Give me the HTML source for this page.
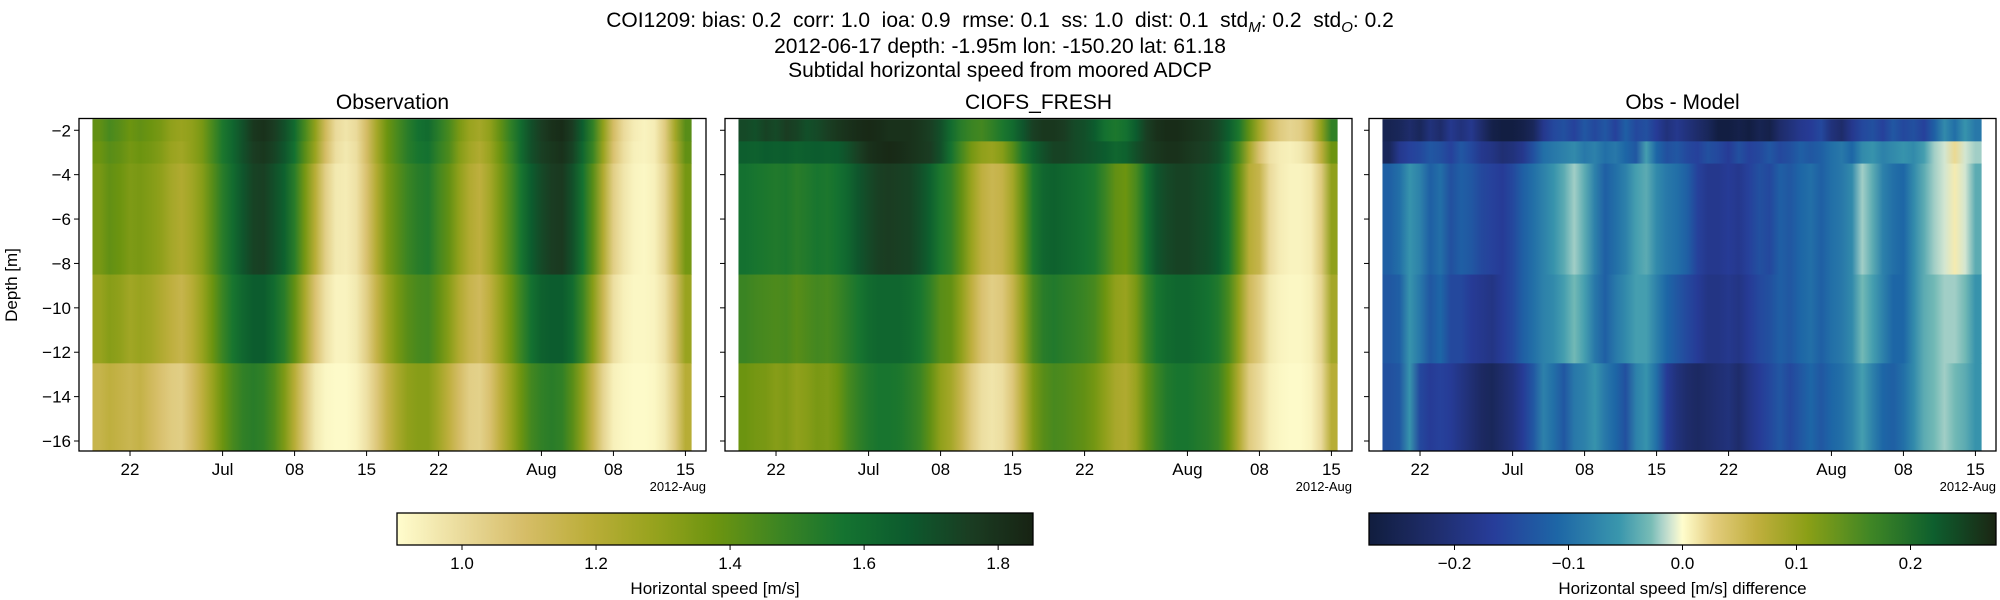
<!DOCTYPE html>
<html><head><meta charset="utf-8"><style>
html,body{margin:0;padding:0;background:#fff;}
svg{display:block;font-family:"Liberation Sans","DejaVu Sans",sans-serif;}
.sup{white-space:pre;}
</style></head><body>
<svg id="fig" xmlns="http://www.w3.org/2000/svg" width="2000" height="600" viewBox="0 0 2000 600">
<text class="sup" x="1000" y="27" font-size="21" text-anchor="middle">COI1209: bias: 0.2  corr: 1.0  ioa: 0.9  rmse: 0.1  ss: 1.0  dist: 0.1  std<tspan font-size="15" dy="5" font-style="italic">M</tspan><tspan dy="-5">: 0.2  std</tspan><tspan font-size="15" dy="5" font-style="italic">O</tspan><tspan dy="-5">: 0.2</tspan></text>
<text x="1000" y="53" font-size="21" text-anchor="middle">2012-06-17 depth: -1.95m lon: -150.20 lat: 61.18</text>
<text x="1000" y="77" font-size="21" text-anchor="middle">Subtidal horizontal speed from moored ADCP</text>
<g id="panels"></g>
<g id="cbars"></g>
</svg>
<script>
// ---- data ----
const days = [-3,-2,-1,0,1,2,3,4,5,6,7,8,9,10,11,12,13,14,15,16,17,18,19,20,21,22,23,24,25,26,27,28,29,30,31,32,33,34,35,36,37,38,39,40,41,42,43,44,45,46,47,48,49,50,51,52,53,54];
const depthEdges = [-1.5,-2.5,-3.5,-8.5,-12.5,-16.5];
const xTickDays = [0,9,16,23,30,40,47,54];
const xTickLabels = ['22','Jul','08','15','22','Aug','08','15'];
const yTicks = [-2,-4,-6,-8,-10,-12,-14,-16];
const speedTicks = [1.0,1.2,1.4,1.6,1.8];
const diffTicks = [-0.2,-0.1,0.0,0.1,0.2];

const obsL0 = [1.40,1.45,1.42,1.38,1.40,1.38,1.35,1.30,1.28,1.30, 1.35,1.45,1.55,1.62,1.70,1.78,1.80,1.76,1.70,1.60, 1.45,1.30,1.12,1.00,0.97,1.00,1.10,1.25,1.38,1.45, 1.52,1.58,1.60,1.52,1.45,1.35,1.28,1.25,1.30,1.40, 1.50,1.60,1.70,1.76,1.80,1.82,1.76,1.65,1.50,1.30, 1.10,1.00,0.95,0.93,0.95,1.05,1.25,1.42];
const obsL1 = [1.38,1.42,1.40,1.36,1.38,1.36,1.33,1.28,1.26,1.30, 1.35,1.45,1.55,1.62,1.70,1.76,1.78,1.74,1.68,1.58, 1.42,1.28,1.10,0.99,0.96,0.99,1.10,1.25,1.38,1.45, 1.52,1.56,1.58,1.50,1.44,1.33,1.26,1.22,1.28,1.38, 1.48,1.60,1.70,1.75,1.78,1.80,1.74,1.62,1.48,1.28, 1.08,0.99,0.94,0.93,0.95,1.05,1.22,1.40];
const obsL2 = [1.35,1.40,1.38,1.34,1.35,1.33,1.30,1.25,1.22,1.26, 1.32,1.42,1.52,1.60,1.68,1.74,1.75,1.70,1.64,1.52, 1.36,1.20,1.04,0.96,0.95,0.98,1.08,1.22,1.35,1.42, 1.48,1.52,1.54,1.46,1.40,1.30,1.22,1.18,1.25,1.35, 1.45,1.56,1.66,1.72,1.76,1.77,1.70,1.58,1.42,1.22, 1.04,0.97,0.93,0.92,0.94,1.02,1.18,1.36];
const obsL3 = [1.28,1.32,1.30,1.26,1.28,1.26,1.22,1.18,1.15,1.20, 1.28,1.38,1.48,1.56,1.62,1.66,1.66,1.60,1.52,1.40, 1.24,1.08,0.98,0.93,0.93,0.96,1.04,1.16,1.28,1.36, 1.42,1.45,1.46,1.40,1.32,1.22,1.15,1.12,1.18,1.28, 1.38,1.48,1.58,1.64,1.66,1.66,1.60,1.48,1.32,1.14, 0.99,0.94,0.92,0.92,0.93,0.98,1.10,1.28];
const obsL4 = [1.15,1.18,1.16,1.14,1.16,1.12,1.08,1.05,1.04,1.10, 1.18,1.28,1.38,1.45,1.50,1.52,1.50,1.44,1.34,1.20, 1.06,0.96,0.92,0.91,0.91,0.93,0.98,1.06,1.16,1.24, 1.30,1.32,1.32,1.26,1.18,1.10,1.04,1.03,1.08,1.18, 1.28,1.38,1.46,1.50,1.52,1.50,1.42,1.30,1.15,1.02, 0.94,0.92,0.91,0.91,0.92,0.96,1.05,1.20];

const modL0 = [1.72,1.70,1.74,1.72,1.76,1.74,1.70,1.72,1.75,1.78, 1.80,1.82,1.83,1.82,1.80,1.80,1.80,1.78,1.75,1.70, 1.60,1.52,1.48,1.46,1.50,1.55,1.60,1.68,1.75,1.78, 1.78,1.76,1.72,1.70,1.66,1.58,1.55,1.58,1.66,1.75, 1.80,1.82,1.82,1.80,1.78,1.76,1.72,1.65,1.55,1.40, 1.25,1.12,1.05,1.02,1.04,1.12,1.30,1.50];
const modL1 = [1.65,1.64,1.66,1.65,1.66,1.64,1.65,1.66,1.65,1.66, 1.70,1.75,1.80,1.82,1.83,1.82,1.80,1.78,1.76,1.70, 1.58,1.46,1.36,1.30,1.28,1.32,1.42,1.55,1.64,1.70, 1.74,1.74,1.72,1.70,1.68,1.66,1.62,1.64,1.70,1.75, 1.78,1.80,1.80,1.78,1.76,1.74,1.70,1.60,1.45,1.25, 1.08,0.98,0.95,0.94,0.96,1.02,1.18,1.38];
const modL2 = [1.58,1.56,1.55,1.54,1.55,1.52,1.54,1.56,1.55,1.58, 1.62,1.68,1.72,1.75,1.76,1.75,1.74,1.70,1.64,1.55, 1.50,1.40,1.28,1.18,1.14,1.16,1.25,1.40,1.55,1.62, 1.64,1.62,1.60,1.58,1.55,1.48,1.40,1.38,1.45,1.58, 1.68,1.72,1.74,1.74,1.72,1.70,1.66,1.56,1.40,1.20, 1.15,1.00,0.95,0.93,0.93,0.95,1.05,1.30];
const modL3 = [1.48,1.46,1.45,1.44,1.45,1.42,1.44,1.46,1.45,1.48, 1.52,1.56,1.60,1.62,1.62,1.62,1.60,1.56,1.50,1.42, 1.40,1.30,1.18,1.08,1.04,1.06,1.15,1.30,1.45,1.52, 1.54,1.52,1.50,1.48,1.45,1.38,1.30,1.28,1.35,1.48, 1.56,1.60,1.62,1.62,1.60,1.58,1.54,1.45,1.30,1.12, 1.05,0.96,0.93,0.92,0.92,0.94,1.02,1.25];
const modL4 = [1.38,1.36,1.35,1.32,1.34,1.30,1.32,1.35,1.34,1.38, 1.45,1.50,1.54,1.56,1.56,1.55,1.52,1.48,1.40,1.30, 1.25,1.15,1.05,0.99,0.97,0.99,1.06,1.20,1.35,1.42, 1.45,1.44,1.42,1.40,1.36,1.30,1.24,1.22,1.28,1.40, 1.48,1.54,1.56,1.56,1.54,1.52,1.48,1.38,1.22,1.05, 1.00,0.94,0.92,0.91,0.91,0.93,1.00,1.20];

const difL0 = [-0.25,-0.24,-0.22,-0.24,-0.20,-0.22,-0.18,-0.20,-0.18,-0.22, -0.26,-0.27,-0.27,-0.26,-0.24,-0.18,-0.15,-0.14,-0.16,-0.13, -0.15,-0.13,-0.16,-0.12,-0.15,-0.14,-0.17,-0.20,-0.18,-0.20, -0.22,-0.24,-0.27,-0.27,-0.26,-0.27,-0.25,-0.26,-0.22,-0.20, -0.18,-0.17,-0.15,-0.20,-0.22,-0.18,-0.15,-0.14,-0.16,-0.13, -0.15,-0.14,-0.16,-0.12,-0.07,-0.10,-0.06,-0.09];
const difL1 = [-0.24,-0.18,-0.16,-0.15,-0.13,-0.14,-0.16,-0.13,-0.15,-0.18, -0.19,-0.21,-0.20,-0.18,-0.14,-0.10,-0.09,-0.08,-0.07,-0.09, -0.08,-0.10,-0.09,-0.11,-0.13,-0.05,-0.11,-0.14,-0.13,-0.15, -0.16,-0.14,-0.15,-0.17,-0.14,-0.16,-0.15,-0.13,-0.15,-0.14, -0.12,-0.13,-0.12,-0.10,-0.09,-0.11,-0.07,-0.06,-0.08,-0.07, -0.06,-0.07,-0.05,-0.02,-0.01,0.02,-0.01,-0.02];
const difL2 = [-0.12,-0.10,-0.06,-0.08,-0.12,-0.10,-0.14,-0.12,-0.13,-0.15, -0.16,-0.17,-0.15,-0.12,-0.10,-0.08,-0.06,-0.04,-0.02,-0.04, -0.08,-0.12,-0.10,-0.08,-0.05,-0.04,-0.07,-0.09,-0.10,-0.12, -0.16,-0.18,-0.18,-0.17,-0.18,-0.16,-0.14,-0.15,-0.12,-0.13, -0.11,-0.10,-0.12,-0.10,-0.09,-0.07,-0.02,-0.04,-0.08,-0.10, -0.11,-0.07,-0.04,-0.02,-0.01,0.01,-0.01,-0.04];
const difL3 = [-0.13,-0.12,-0.06,-0.09,-0.13,-0.11,-0.15,-0.15,-0.17,-0.18, -0.19,-0.17,-0.15,-0.12,-0.10,-0.08,-0.07,-0.05,-0.03,-0.05, -0.09,-0.12,-0.09,-0.07,-0.05,-0.05,-0.08,-0.11,-0.13,-0.15, -0.17,-0.19,-0.19,-0.18,-0.19,-0.17,-0.15,-0.14,-0.12,-0.13, -0.11,-0.10,-0.12,-0.10,-0.09,-0.07,-0.03,-0.05,-0.08,-0.11, -0.11,-0.07,-0.04,-0.03,-0.02,-0.02,-0.03,-0.06];
const difL4 = [-0.14,-0.13,-0.06,-0.15,-0.17,-0.16,-0.17,-0.19,-0.21,-0.23, -0.24,-0.22,-0.20,-0.17,-0.13,-0.08,-0.10,-0.13,-0.09,-0.08, -0.06,-0.09,-0.11,-0.14,-0.08,-0.06,-0.10,-0.17,-0.20,-0.22, -0.23,-0.22,-0.21,-0.20,-0.22,-0.19,-0.17,-0.15,-0.13,-0.15, -0.13,-0.11,-0.13,-0.11,-0.10,-0.08,-0.05,-0.08,-0.11,-0.12, -0.10,-0.07,-0.04,-0.03,-0.02,-0.03,-0.04,-0.06];

const obsRows = [obsL0,obsL1,obsL2,obsL3,obsL4];
const modRows = [modL0,modL1,modL2,modL3,modL4];
const difRows = [difL0,difL1,difL2,difL3,difL4];

// ---- colormaps ----
const speedStops = [[0,'#fffdcd'],[0.1,'#eadb9c'],[0.2,'#d6bd68'],[0.3,'#bcae3a'],[0.4,'#98a31e'],[0.5,'#6d9410'],[0.6,'#3d8522'],[0.7,'#157430'],[0.8,'#0c5b2e'],[0.9,'#1a3d22'],[1,'#172313']];
const deltaStops = [[0,'#111d3e'],[0.1,'#1e2c6a'],[0.2,'#273d9a'],[0.3,'#1d66a6'],[0.4,'#3a97ad'],[0.45,'#78bcb6'],[0.475,'#c3ddd3'],[0.5,'#fffdcd'],[0.55,'#e3cc7c'],[0.62,'#bfae3c'],[0.7,'#8a9f16'],[0.8,'#3f8625'],[0.9,'#0e5f2e'],[1,'#1b2513']];
function hex(h){return [parseInt(h.substr(1,2),16),parseInt(h.substr(3,2),16),parseInt(h.substr(5,2),16)];}
function cmap(stops,t){
  t=Math.max(0,Math.min(1,t));
  for(let i=1;i<stops.length;i++){
    if(t<=stops[i][0]){
      const a=stops[i-1],b=stops[i];const f=(t-a[0])/(b[0]-a[0]);
      const ca=hex(a[1]),cb=hex(b[1]);
      return 'rgb('+ca.map((v,k)=>Math.round(v+(cb[k]-v)*f)).join(',')+')';
    }
  }
  return stops[stops.length-1][1];
}
const NS='http://www.w3.org/2000/svg';
function el(tag,attrs,parent){const e=document.createElementNS(NS,tag);for(const k in attrs)e.setAttribute(k,attrs[k]);if(parent)parent.appendChild(e);return e;}

// ---- layout ----
const axTop=118.5, axBot=451, axW=627;
const xDom=[-4.96,56.0], yDom=[-16.45,-1.47];
const dataX=[-3.65,54.6];
function yS(v){return axBot-(v-yDom[0])/(yDom[1]-yDom[0])*(axBot-axTop);}
function xS(left,d){return left+(d-xDom[0])/(xDom[1]-xDom[0])*axW;}

const svg=document.getElementById('fig');
const defs=el('defs',{},svg);
const panelsG=document.getElementById('panels');
const panels=[
  {left:79,title:'Observation',rows:obsRows,stops:speedStops,vmin:0.903,vmax:1.852,name:'observation'},
  {left:725,title:'CIOFS_FRESH',rows:modRows,stops:speedStops,vmin:0.903,vmax:1.852,name:'model'},
  {left:1369,title:'Obs - Model',rows:difRows,stops:deltaStops,vmin:-0.275,vmax:0.275,name:'difference'}
];
panels.forEach((p,pi)=>{
  const g=el('g',{},panelsG);
  
  
  const t=el('text',{x:p.left+axW/2,y:109,'font-size':21,'text-anchor':'middle'},g);
  t.textContent=p.title;
  
  
  const cp=el('clipPath',{id:'clip'+pi},defs);
  el('rect',{x:p.left,y:axTop,width:axW,height:axBot-axTop},cp);
  const hm=el('g',{'clip-path':'url(#clip'+pi+')'},g);
  
  
  const x0=xS(p.left,dataX[0]), x1=xS(p.left,dataX[1]);
  p.rows.forEach((row,ri)=>{
    const gid='g'+pi+'_'+ri;
    const lg=el('linearGradient',{id:gid,gradientUnits:'userSpaceOnUse',x1:x0,y1:0,x2:x1,y2:0},defs);
    days.forEach((d,di)=>{
      const off=(xS(p.left,d)-x0)/(x1-x0);
      el('stop',{offset:off.toFixed(4),'stop-color':cmap(p.stops,(row[di]-p.vmin)/(p.vmax-p.vmin))},lg);
    });
    const yt=yS(depthEdges[ri]), yb=yS(depthEdges[ri+1]);
    const r=el('rect',{x:x0,y:yt,width:x1-x0,height:yb-yt+0.5,fill:'url(#'+gid+')'},hm);
    
    
  });
  const fr=el('rect',{x:p.left,y:axTop,width:axW,height:axBot-axTop,fill:'none',stroke:'#000','stroke-width':1.3},g);
  
  
  yTicks.forEach(v=>{
    const y=yS(v);
    el('line',{x1:p.left-5,x2:p.left,y1:y,y2:y,stroke:'#000','stroke-width':1},g);
    if(pi===0){
      const tl=el('text',{x:p.left-8,y:y+6,'font-size':17,'text-anchor':'end'},g);
      tl.textContent='\u2212'+Math.abs(v);
      
      
    }
  });
  xTickDays.forEach((d,i)=>{
    const x=xS(p.left,d);
    el('line',{x1:x,x2:x,y1:axBot,y2:axBot+5,stroke:'#000','stroke-width':1},g);
    const tl=el('text',{x:x,y:axBot+24,'font-size':17,'text-anchor':'middle'},g);
    tl.textContent=xTickLabels[i];
    
    
  });
  const off=el('text',{x:p.left+axW,y:491,'font-size':13,'text-anchor':'end'},g);
  off.textContent='2012-Aug';
  
  
});
const yl=el('text',{x:0,y:0,'font-size':17,'text-anchor':'middle',transform:'translate(17,285) rotate(-90)'},panelsG);
yl.textContent='Depth [m]';



// ---- colorbars ----
const cbG=document.getElementById('cbars');
const cbars=[
  {x:397,w:636,stops:speedStops,vmin:0.903,vmax:1.852,ticks:speedTicks,fmt:v=>v.toFixed(1),label:'Horizontal speed [m/s]',name:'speed-colorbar'},
  {x:1369,w:627,stops:deltaStops,vmin:-0.275,vmax:0.275,ticks:diffTicks,fmt:v=>(v<0?'\u2212':'')+Math.abs(v).toFixed(1),label:'Horizontal speed [m/s] difference',name:'difference-colorbar'}
];
cbars.forEach((c,ci)=>{
  const g=el('g',{},cbG);
  
  
  const lg=el('linearGradient',{id:'cb'+ci,x1:0,y1:0,x2:1,y2:0},defs);
  for(let i=0;i<=60;i++){el('stop',{offset:i/60,'stop-color':cmap(c.stops,i/60)},lg);}
  el('rect',{x:c.x,y:513,width:c.w,height:32,fill:'url(#cb'+ci+')',stroke:'#000','stroke-width':1.3},g);
  c.ticks.forEach(v=>{
    const x=c.x+(v-c.vmin)/(c.vmax-c.vmin)*c.w;
    el('line',{x1:x,x2:x,y1:545,y2:550,stroke:'#000','stroke-width':1},g);
    const t=el('text',{x:x,y:569,'font-size':17,'text-anchor':'middle'},g);
    t.textContent=c.fmt(v);
    
    
  });
  const lb=el('text',{x:c.x+c.w/2,y:594,'font-size':17,'text-anchor':'middle'},g);
  lb.textContent=c.label;
  
  
});
</script>
</body></html>
